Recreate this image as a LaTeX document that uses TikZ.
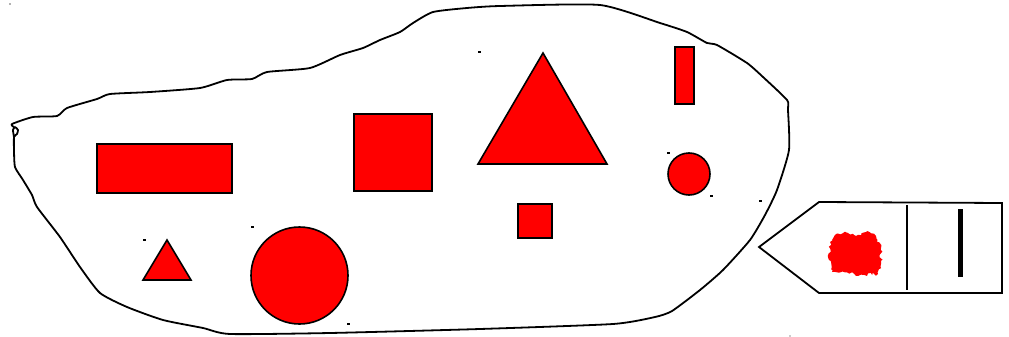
\documentclass[tikz,border=0pt]{standalone}
\usetikzlibrary{decorations.pathmorphing}
\definecolor{shapered}{RGB}{255,0,0}
\begin{document}
\begin{tikzpicture}[x=1pt,y=-1pt,
  shp/.style={draw=black,line width=1.6pt,fill=shapered,line join=miter},
  outline/.style={draw=black,line width=1.8pt,line join=round,line cap=round},
  speck/.style={fill=black}]
\useasboundingbox (0,0) rectangle (1009,337);
% blob outline
\draw[outline] plot[smooth,tension=0.35] coordinates {
 (14,127) (12,124) (33,117) (57,116) (67,108) (97,99) (110,94) (150,92) (200,88)
 (227,80) (252,79) (267,72) (310,68) (340,55) (363,48) (380,40) (400,32)
 (413,23) (433,12) (467,8) (500,6) (600,5) (660,23) (687,32) (707,43)
 (717,45) (747,63) (763,77) (787,100) (788,110) (789,150) (777,190) (765,215)
 (750,240) (723,270) (700,290) (672,311) (655,317) (613,324) (480,329) (330,333)
 (230,334) (203,328) (163,320) (127,307) (100,293) (80,267) (60,237) (37,207)
 (32,195) (23,180) (15,167) (14,150) (14,137) (17,134) (18,130) (15,127) (13,130) (14,137)};
% shapes
\draw[shp] (97,144) rectangle (232,193);
\draw[shp] (354,114) rectangle (432,191);
\draw[shp] (543,53) -- (607,164) -- (478,164) -- cycle;
\draw[shp] (675,47) rectangle (694,104);
\draw[shp] (689,174) circle[radius=21];
\draw[shp] (518,204) rectangle (552,238);
\draw[shp] (167,240) -- (191,280) -- (143,280) -- cycle;
\draw[shp] (299.5,275.5) circle[radius=48.5];
% specks
\foreach \p in {(479,52),(668,153),(711,196),(760,201),(144,240),(252,227),(348,324)}
  \fill[speck] \p ++(-1.5,-1) rectangle ++(3,2);
\fill[gray!60] (10,4) ++(-0.8,-0.8) rectangle ++(1.6,1.6);
\fill[gray!40] (790,336) ++(-0.8,-0.8) rectangle ++(1.6,1.6);
% tag
\draw[outline,line join=miter] (819,202) -- (1002,203) -- (1002,293) -- (819,293) -- (759,247) -- cycle;
\draw[black,line width=1.3pt] (907,205) -- (907,290);
\fill[black] (958,209) rectangle (963,277);
\pgfmathsetseed{7}
\fill[shapered,decorate,decoration={random steps,segment length=2pt,amplitude=1.6pt}]
  (836,234) -- (848,233) -- (856,236) -- (866,232) -- (876,236) -- (881,248) -- (881,264) -- (878,274) -- (862,275) -- (848,273) -- (832,272) -- (829,260) -- (830,242) -- cycle;
\end{tikzpicture}
\end{document}
